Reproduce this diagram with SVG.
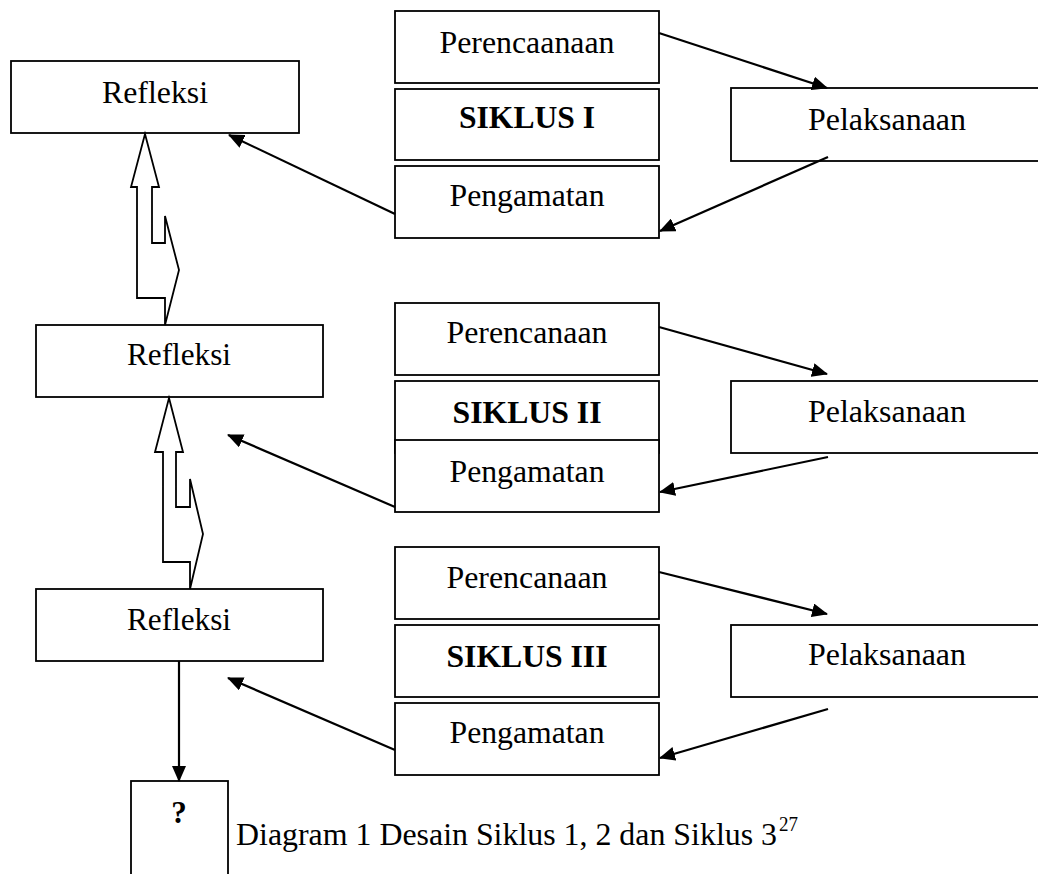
<svg xmlns="http://www.w3.org/2000/svg" width="1038" height="874" viewBox="0 0 1038 874">
<style>
.box{fill:#fff;stroke:#000;stroke-width:1.8}
.t{font-family:"Liberation Serif","Times New Roman",serif;font-size:31px;fill:#000;text-anchor:middle}
.b{font-weight:bold}
.con{stroke:#000;stroke-width:2.2;fill:none}
.hollow{fill:#fff;stroke:#000;stroke-width:1.8;stroke-linejoin:miter}
</style>
<defs>
<marker id="ah" markerWidth="16" markerHeight="14" refX="15" refY="7" orient="auto" markerUnits="userSpaceOnUse">
<path d="M0,0 L16,7 L0,14 Z" fill="#000"/>
</marker>
</defs>
<rect width="1038" height="874" fill="#fff"/>

<g id="refleksi1"><rect class="box" x="11" y="61" width="288" height="72"/><text class="t" x="155" y="103" textLength="106" lengthAdjust="spacingAndGlyphs">Refleksi</text></g>
<g id="refleksi2"><rect class="box" x="36" y="325" width="287" height="72"/><text class="t" x="179" y="365" textLength="104" lengthAdjust="spacingAndGlyphs">Refleksi</text></g>
<g id="refleksi3"><rect class="box" x="36" y="589" width="287" height="72"/><text class="t" x="179" y="630" textLength="104" lengthAdjust="spacingAndGlyphs">Refleksi</text></g>
<g id="unknown"><rect class="box" x="131" y="781" width="97" height="100"/><text class="t b" x="179" y="823">?</text></g>

<g id="perencanaan1"><rect class="box" x="395" y="11" width="264" height="72"/><text class="t" x="527" y="53" textLength="175" lengthAdjust="spacingAndGlyphs">Perencaanaan</text></g>
<g id="siklus1"><rect class="box" x="395" y="89" width="264" height="71"/><text class="t b" x="527" y="128" textLength="136" lengthAdjust="spacingAndGlyphs">SIKLUS I</text></g>
<g id="pengamatan1"><rect class="box" x="395" y="166" width="264" height="72"/><text class="t" x="527" y="206" textLength="155" lengthAdjust="spacingAndGlyphs">Pengamatan</text></g>
<g id="pelaksanaan1"><rect class="box" x="731" y="88" width="320" height="73"/><text class="t" x="887" y="130" textLength="158" lengthAdjust="spacingAndGlyphs">Pelaksanaan</text></g>

<g id="perencanaan2"><rect class="box" x="395" y="303" width="264" height="72"/><text class="t" x="527" y="343" textLength="161" lengthAdjust="spacingAndGlyphs">Perencanaan</text></g>
<g id="siklus2"><rect class="box" x="395" y="381" width="264" height="72"/><text class="t b" x="527" y="423" textLength="149" lengthAdjust="spacingAndGlyphs">SIKLUS II</text></g>
<g id="pengamatan2"><rect class="box" x="395" y="440" width="264" height="72"/><text class="t" x="527" y="482" textLength="155" lengthAdjust="spacingAndGlyphs">Pengamatan</text></g>
<g id="pelaksanaan2"><rect class="box" x="731" y="381" width="320" height="72"/><text class="t" x="887" y="422" textLength="158" lengthAdjust="spacingAndGlyphs">Pelaksanaan</text></g>

<g id="perencanaan3"><rect class="box" x="395" y="547" width="264" height="72"/><text class="t" x="527" y="588" textLength="161" lengthAdjust="spacingAndGlyphs">Perencanaan</text></g>
<g id="siklus3"><rect class="box" x="395" y="625" width="264" height="72"/><text class="t b" x="527" y="667" textLength="161" lengthAdjust="spacingAndGlyphs">SIKLUS III</text></g>
<g id="pengamatan3"><rect class="box" x="395" y="703" width="264" height="72"/><text class="t" x="527" y="743" textLength="155" lengthAdjust="spacingAndGlyphs">Pengamatan</text></g>
<g id="pelaksanaan3"><rect class="box" x="731" y="625" width="320" height="72"/><text class="t" x="887" y="665" textLength="158" lengthAdjust="spacingAndGlyphs">Pelaksanaan</text></g>

<g id="connectors">
<line class="con" x1="659" y1="33" x2="827" y2="88" marker-end="url(#ah)"/>
<line class="con" x1="828" y1="157" x2="660" y2="231" marker-end="url(#ah)"/>
<line class="con" x1="395" y1="214" x2="229" y2="135" marker-end="url(#ah)"/>
<line class="con" x1="659" y1="327" x2="827" y2="374" marker-end="url(#ah)"/>
<line class="con" x1="828" y1="457" x2="660" y2="492" marker-end="url(#ah)"/>
<line class="con" x1="395" y1="507" x2="228" y2="435" marker-end="url(#ah)"/>
<line class="con" x1="659" y1="572" x2="827" y2="614" marker-end="url(#ah)"/>
<line class="con" x1="828" y1="709" x2="660" y2="758" marker-end="url(#ah)"/>
<line class="con" x1="395" y1="750" x2="228" y2="678" marker-end="url(#ah)"/>
<line class="con" x1="179" y1="661" x2="179" y2="781" marker-end="url(#ah)"/>
<path class="hollow" d="M145,134 L159,187 L152,187 L152,243 L165,243 L165,216 L179,270 L165,325 L165,298 L137,298 L137,187 L131,187 Z"/>
<path class="hollow" d="M169,398 L183,452 L176,452 L176,507 L190,507 L190,479 L203,534 L190,589 L190,562 L163,562 L163,452 L155,452 Z"/>
</g>

<text class="t" x="236" y="845" style="text-anchor:start" textLength="541" lengthAdjust="spacingAndGlyphs">Diagram 1 Desain Siklus 1, 2 dan Siklus 3</text>
<text class="t" x="779" y="831" style="text-anchor:start;font-size:20px" textLength="19" lengthAdjust="spacingAndGlyphs">27</text>
</svg>
